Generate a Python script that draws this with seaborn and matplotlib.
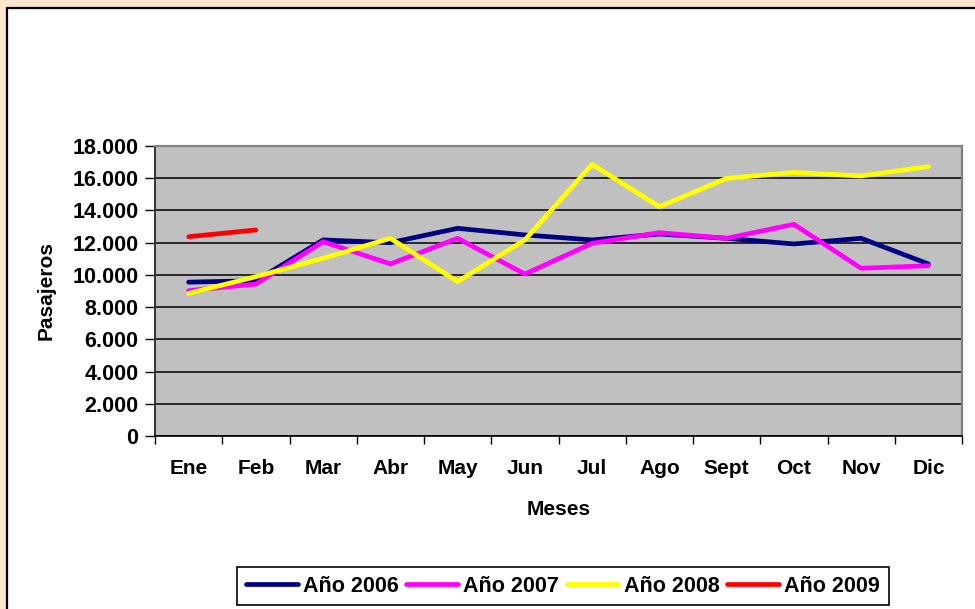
import pandas as pd
import matplotlib
matplotlib.use("Agg")
import matplotlib.pyplot as plt
from matplotlib.patches import Rectangle
from matplotlib.ticker import FuncFormatter, FixedLocator
import seaborn as sns

# Data
meses = ["Ene", "Feb", "Mar", "Abr", "May", "Jun", "Jul", "Ago", "Sept", "Oct", "Nov", "Dic"]
anio_2006 = [9550, 9640, 12170, 12000, 12890, 12480, 12170, 12540, 12270, 11920, 12270, 10680]
anio_2007 = [9020, 9430, 12060, 10680, 12270, 10050, 11960, 12620, 12270, 13140, 10410, 10570]
anio_2008 = [8850, 9890, 11030, 12270, 9580, 12170, 16860, 14230, 15990, 16360, 16140, 16720]
anio_2009 = [12370, 12790]

series = {"Año 2006": anio_2006, "Año 2007": anio_2007,
          "Año 2008": anio_2008, "Año 2009": anio_2009}
rows = []
for name, vals in series.items():
    for i, v in enumerate(vals):
        rows.append({"serie": name, "mes": i, "pasajeros": v})
df = pd.DataFrame(rows)

colores = {"Año 2006": "#000080", "Año 2007": "#FF00FF",
           "Año 2008": "#FFFF00", "Año 2009": "#FF0000"}

sns.set_style("white")
plt.rcParams["font.family"] = ["Liberation Sans", "DejaVu Sans"]
plt.rcParams["font.weight"] = "bold"
plt.rcParams["text.color"] = "black"
plt.rcParams["axes.labelcolor"] = "black"
plt.rcParams["xtick.color"] = "black"
plt.rcParams["ytick.color"] = "black"

W, H = 975, 609
fig = plt.figure(figsize=(W / 100, H / 100), dpi=100)
fig.patch.set_facecolor("#FBE6CD")

# white chart area with dark border (runs off right and bottom edges)
fig.add_artist(Rectangle((6.5 / W, -0.05), 1.1, 1.05 - 7.5 / H,
                         transform=fig.transFigure, facecolor="white",
                         edgecolor="black", linewidth=1.6, zorder=-10))

ax = fig.add_axes([155 / W, (H - 436) / H, 807 / W, 290 / H])
ax.set_zorder(1)
ax.set_facecolor("#C0C0C0")

sns.lineplot(data=df, x="mes", y="pasajeros", hue="serie", palette=colores,
             linewidth=3.4, ax=ax, legend=True, sort=False)

ax.set_xlim(-0.5, 11.5)
ax.set_ylim(0, 18000)
ax.set_yticks(range(0, 18001, 2000))
ax.yaxis.set_major_formatter(FuncFormatter(lambda v, p: f"{int(v):,}".replace(",", ".")))
ax.set_xticks(range(12))
ax.set_xticklabels(meses)
ax.xaxis.set_minor_locator(FixedLocator([i - 0.5 for i in range(13)]))

ax.grid(axis="y", color="black", linewidth=1.1)
ax.set_axisbelow(True)

ax.tick_params(axis="y", which="major", left=True, length=7, width=1, color="black",
               labelsize=15.5, pad=5)
ax.tick_params(axis="x", which="major", bottom=False, labelsize=15, pad=13)
ax.tick_params(axis="x", which="minor", bottom=True, length=6, width=1, color="black")
for lab in ax.get_xticklabels() + ax.get_yticklabels():
    lab.set_fontweight("bold")

for s in ["top", "right"]:
    ax.spines[s].set_color("#808080")
    ax.spines[s].set_linewidth(1.6)
ax.spines["left"].set_color("#333333")
ax.spines["left"].set_linewidth(1.4)
ax.spines["bottom"].set_color("black")
ax.spines["bottom"].set_linewidth(1.2)

ax.set_xlabel("Meses", fontsize=15, fontweight="bold", labelpad=16)
ax.set_ylabel("Pasajeros", fontsize=15, fontweight="bold", labelpad=12)

handles, labels = ax.get_legend_handles_labels()
leg = ax.legend(handles, labels, loc="center", ncol=4,
                bbox_to_anchor=((563 - 155) / 807, -(586 - 436) / 290),
                frameon=True, fancybox=False, framealpha=1, edgecolor="black",
                prop={"size": 15.5, "weight": "bold"}, handlelength=2.4,
                handletextpad=0.25, columnspacing=0.35, borderpad=0.4)
leg.get_frame().set_linewidth(1.2)
for line in leg.get_lines():
    line.set_linewidth(3.4)

fig.savefig("out.png", dpi=100, facecolor=fig.get_facecolor())
